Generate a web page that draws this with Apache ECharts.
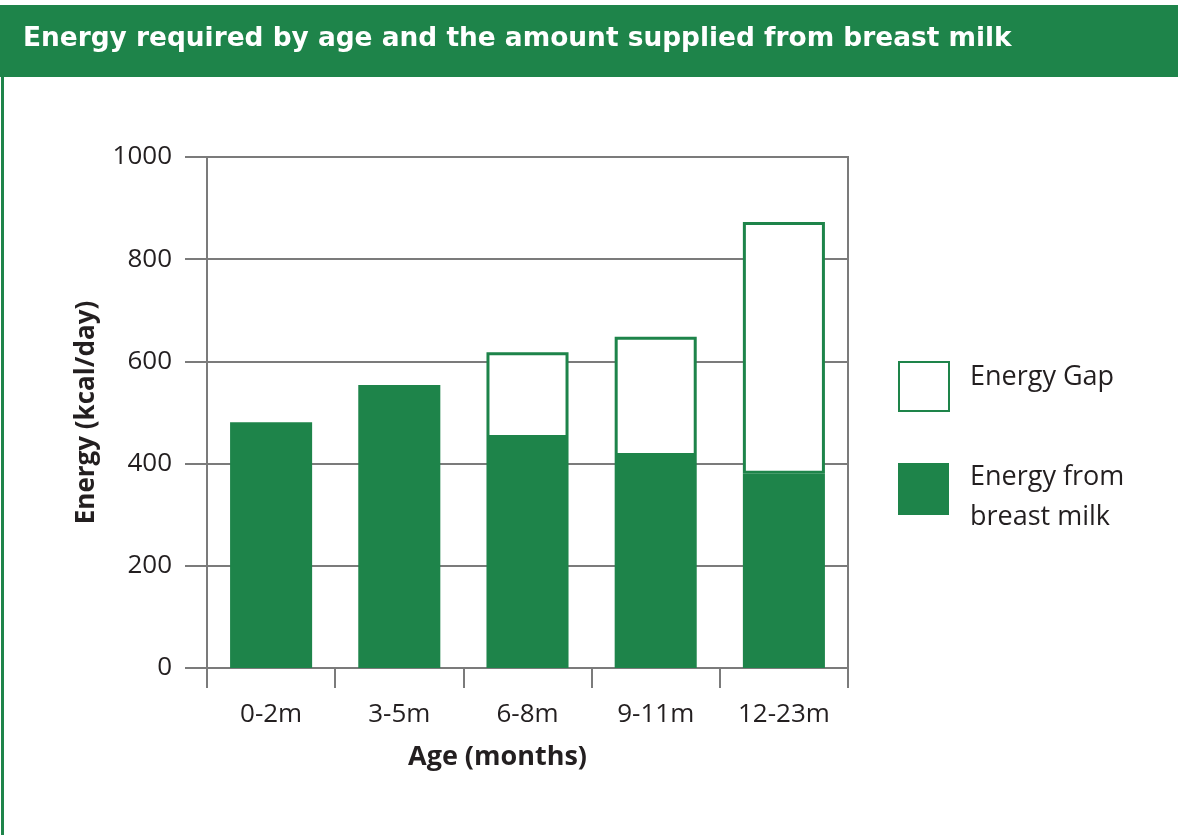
<!DOCTYPE html>
<html>
<head>
<meta charset="utf-8">
<script src="https://cdn.jsdelivr.net/npm/echarts@6/dist/echarts.min.js"></script>
<style>
  html, body { margin: 0; padding: 0; background: #fff; }
  #chart { width: 1178px; height: 835px; }
</style>
</head>
<body>
<div id="chart"></div>
<script>
const ages = ['0-2m', '3-5m', '6-8m', '9-11m', '12-23m'];
const fromMilk = [481, 554, 450, 415, 380];
const energyGap = ['-', '-', 168, 233, 493];
const yTicks = [0, 200, 400, 600, 800, 1000];

const green = '#1e844a';
const grey = '#7b7b7b';
const ink = '#231f20';
const font = '"Open Sans", "Noto Sans", sans-serif';

const chart = echarts.init(document.getElementById('chart'));

const legendText = { fontSize: 27, lineHeight: 40, color: ink, fontFamily: font, padding: [0, 0, 0, 16] };

const option = {
  animation: false,
  backgroundColor: '#fff',
  textStyle: { fontFamily: font, color: ink },
  graphic: [
    { type: 'rect', left: 0, top: 5, shape: { width: 1178, height: 72 }, style: { fill: green } },
    { type: 'rect', left: 1, top: 77, shape: { width: 3, height: 758 }, style: { fill: green } },
    {
      type: 'text', left: 23, top: 26,
      style: {
        text: 'Energy required by age and the amount supplied from breast milk',
        fill: '#fff', font: 'bold 26.4px "DejaVu Sans", Verdana, sans-serif'
      }
    }
  ],
  grid: {
    left: 207, right: 330, top: 157, bottom: 167,
    show: true, borderColor: grey, borderWidth: 2, backgroundColor: 'transparent'
  },
  legend: [
    {
      data: ['Energy Gap'], orient: 'vertical', left: 898, top: 361, padding: 0,
      icon: 'rect', itemWidth: 50, itemHeight: 49,
      formatter: '{t|Energy Gap}\n{p|}',
      textStyle: { rich: { t: legendText, p: { height: 18, lineHeight: 18 } } },
      selectedMode: false
    },
    {
      data: ['Energy from breast milk'], orient: 'vertical', left: 898, top: 441, padding: 0,
      icon: 'rect', itemWidth: 51, itemHeight: 52,
      formatter: '{p|}\n{t|Energy from}\n{t|breast milk}',
      textStyle: { rich: { t: legendText, p: { height: 16, lineHeight: 16 } } },
      selectedMode: false
    }
  ],
  xAxis: {
    type: 'category',
    data: ages,
    name: 'Age (months)',
    nameLocation: 'middle',
    nameGap: 76,
    nameTextStyle: { fontSize: 27, fontWeight: 'bold', color: ink, fontFamily: font, padding: [0, 60, 0, 0] },
    axisLine: { lineStyle: { color: grey, width: 2 } },
    axisTick: { show: true, length: 20, lineStyle: { color: grey, width: 2 } },
    axisLabel: { fontSize: 26, color: ink, margin: 34, fontFamily: font }
  },
  yAxis: {
    type: 'value',
    min: 0, max: 1000, interval: 200,
    name: 'Energy (kcal/day)',
    nameLocation: 'middle',
    nameGap: 107,
    nameTextStyle: { fontSize: 26, fontWeight: 'bold', color: ink, fontFamily: font },
    axisLine: { show: true, lineStyle: { color: grey, width: 2 } },
    axisTick: { show: true, length: 22, lineStyle: { color: grey, width: 2 } },
    splitLine: { lineStyle: { color: grey, width: 2 } },
    axisLabel: {
      fontSize: 26, color: ink, margin: 35, fontFamily: font,
      customValues: yTicks,
      formatter: v => String(v)
    }
  },
  series: [
    {
      name: 'Energy from breast milk',
      type: 'bar',
      stack: 'energy',
      data: fromMilk,
      barWidth: '64%',
      itemStyle: { color: green }
    },
    {
      name: 'Energy Gap',
      type: 'bar',
      stack: 'energy',
      data: energyGap,
      barWidth: '64%',
      itemStyle: { color: '#fff', borderColor: green, borderWidth: 3 }
    }
  ]
};

chart.setOption(option);
</script>
</body>
</html>
